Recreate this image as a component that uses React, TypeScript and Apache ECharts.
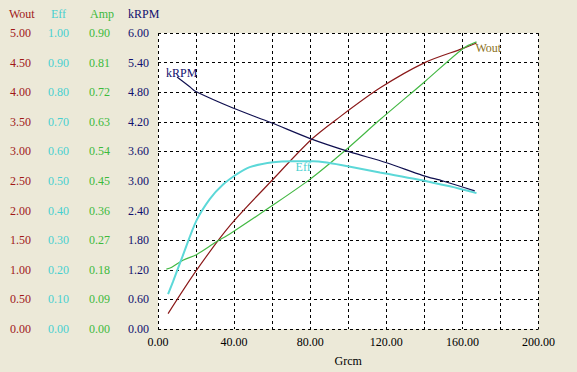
import React, { useEffect, useRef } from "react";
import * as echarts from "echarts";

const xTicks = { min: 0, max: 200, step: 20, labelStep: 40 };

const rpmX = [10, 16.7, 19.6, 39.4, 59.6, 80, 100.8, 120.1, 139.3, 149.8, 166.5];
const rpmY = [5.11, 4.91, 4.82, 4.48, 4.18, 3.86, 3.59, 3.37, 3.11, 3.0, 2.8];

const effX = [5.3, 7.9, 13.1, 20.2, 27.2, 34.2, 41.2, 48.2, 60.5, 70, 81.5, 90, 99, 116.6, 135.9, 153.4, 167.4];
const effY = [0.118, 0.16, 0.249, 0.366, 0.439, 0.488, 0.522, 0.547, 0.563, 0.567, 0.567, 0.561, 0.551, 0.529, 0.506, 0.482, 0.459];

const woutX = [5.3, 20.2, 37.9, 59.6, 80.6, 93.8, 116.6, 140.2, 160.4, 167.4];
const woutY = [0.26, 0.99, 1.75, 2.5, 3.2, 3.54, 4.07, 4.5, 4.74, 4.83];

const ampX = [4.4, 7, 13.1, 20.2, 30.7, 37.7, 58.7, 79.8, 99, 116.6, 140.2, 160.4, 167.4];
const ampY = [0.182, 0.187, 0.209, 0.226, 0.265, 0.289, 0.37, 0.455, 0.546, 0.636, 0.752, 0.853, 0.873];

const axisNames = ["Wout", "Eff", "Amp", "kRPM"];
const axisMax = [5, 1, 0.9, 6];
const axisColors = ["#a01818", "#48d0d0", "#3cba3c", "#10106e"];
const headerX = [9, 51, 90, 128];
const axisOffsets = [119, 81, 40, 0];

const labelCoords = {
  kRPM: [12.5, 5.19],
  Eff: [76.3, 0.546],
  Wout: [173.6, 4.74],
};

const FONT = "'Liberation Serif', 'DejaVu Serif', serif";

function zip(xs: number[], ys: number[]) {
  return xs.map((x, i) => [x, ys[i]]);
}

function mark(coord: number[], text: string, color: string) {
  return {
    silent: true,
    symbol: "circle",
    symbolSize: 1,
    itemStyle: { color: "transparent" },
    label: {
      show: true,
      position: "inside",
      formatter: text,
      color,
      fontFamily: FONT,
      fontSize: 12,
    },
    data: [{ coord }],
  };
}

export default function App() {
  const ref = useRef<HTMLDivElement>(null);
  useEffect(() => {
    document.body.style.margin = "0";
    const chart = echarts.init(ref.current!, null, { renderer: "svg" });
    const dashed = { show: true, lineStyle: { color: "#000", type: [3, 3], width: 1 } };
    const yAxis = axisNames.map((n, i) => ({
      type: "value",
      position: "left",
      offset: axisOffsets[i],
      min: 0,
      max: axisMax[i],
      interval: axisMax[i] / 10,
      axisLine: { show: false },
      axisTick: { show: false },
      splitLine: i === 3 ? dashed : { show: false },
      axisLabel: {
        color: axisColors[i],
        fontFamily: FONT,
        fontSize: 12,
        margin: i === 3 ? 9 : 8,
        formatter: (v: number) => v.toFixed(2),
      },
    }));
    chart.setOption({
      animation: false,
      backgroundColor: "#ECE9D8",
      grid: {
        left: 158,
        right: 38.5,
        top: 33,
        bottom: 41,
        show: true,
        backgroundColor: "#ffffff",
        borderWidth: 0,
      },
      graphic: axisNames.map((n, i) => ({
        type: "text",
        left: headerX[i],
        top: 8,
        style: { text: n, fill: axisColors[i], font: `12px ${FONT}` },
      })),
      xAxis: {
        type: "value",
        min: xTicks.min,
        max: xTicks.max,
        interval: xTicks.step,
        name: "Grcm",
        nameLocation: "middle",
        nameGap: 26,
        nameTextStyle: { color: "#000", fontFamily: FONT, fontSize: 12 },
        axisLine: { show: false },
        axisTick: { show: false },
        splitLine: dashed,
        axisLabel: {
          color: "#000",
          fontFamily: FONT,
          fontSize: 12,
          margin: 7,
          showMinLabel: true,
          showMaxLabel: true,
          formatter: (v: number) => (v % xTicks.labelStep === 0 ? v.toFixed(2) : ""),
        },
      },
      yAxis,
      series: [
        {
          type: "line",
          yAxisIndex: 0,
          data: zip(woutX, woutY),
          smooth: 0.3,
          symbol: "none",
          lineStyle: { color: "#8b1a1a", width: 1.2 },
          markPoint: mark(labelCoords.Wout, "Wout", "#8a7020"),
        },
        {
          type: "line",
          yAxisIndex: 2,
          data: zip(ampX, ampY),
          smooth: 0.3,
          symbol: "none",
          lineStyle: { color: "#44b844", width: 1.2 },
        },
        {
          type: "line",
          yAxisIndex: 1,
          data: zip(effX, effY),
          smooth: 0.3,
          symbol: "none",
          lineStyle: { color: "#5cd8d8", width: 2 },
          markPoint: mark(labelCoords.Eff, "Eff", "#48d0d0"),
        },
        {
          type: "line",
          yAxisIndex: 3,
          data: zip(rpmX, rpmY),
          smooth: 0.3,
          symbol: "none",
          lineStyle: { color: "#101050", width: 1.2 },
          markPoint: mark(labelCoords.kRPM, "kRPM", "#10106e"),
        },
      ],
    });
    return () => chart.dispose();
  }, []);
  return <div ref={ref} style={{ width: 577, height: 372 }} />;
}
